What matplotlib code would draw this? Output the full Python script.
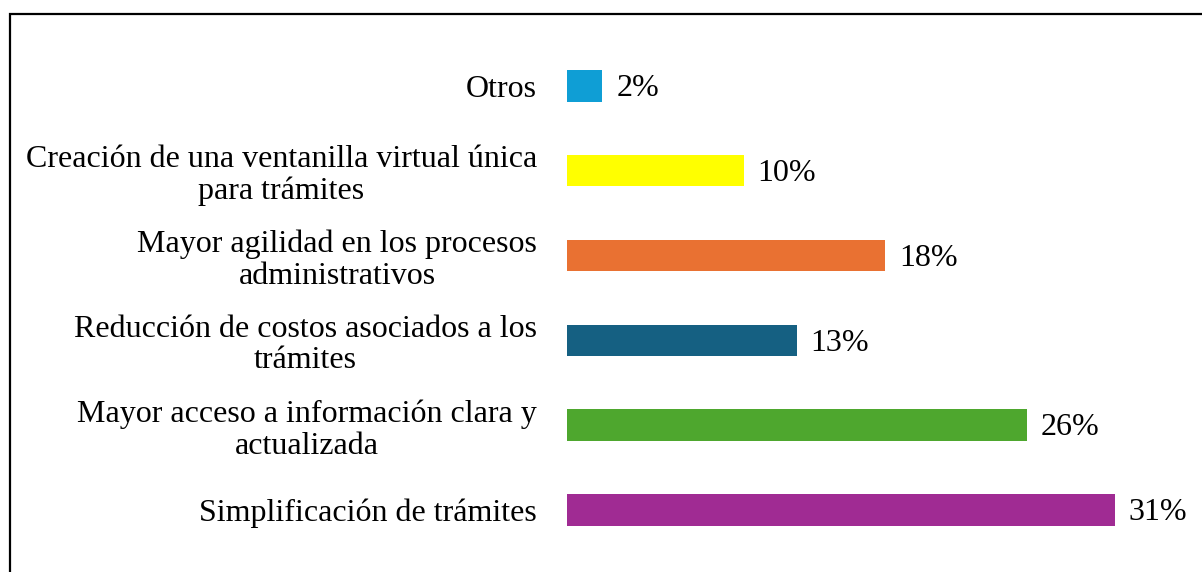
import matplotlib
matplotlib.use("Agg")
import matplotlib.pyplot as plt
from matplotlib.patches import Rectangle

# Datos (de abajo hacia arriba, como aparecen en el gráfico)
categorias = [
    "Simplificación de trámites",
    "Mayor acceso a información clara y\nactualizada",
    "Reducción de costos asociados a los\ntrámites",
    "Mayor agilidad en los procesos\nadministrativos",
    "Creación de una ventanilla virtual única\npara trámites",
    "Otros",
]
porcentajes = [31, 26, 13, 18, 10, 2]
colores = ["#A02B93", "#4EA72E", "#156082", "#E97132", "#FFFF00", "#0F9ED5"]

plt.rcParams["font.family"] = ["Liberation Serif", "DejaVu Serif"]

W, H = 1202, 572
fig = plt.figure(figsize=(W / 100, H / 100), dpi=100)

# ejes posicionados en píxeles
x0, ancho = 567, 548 / 31 * 35
y0, alto = 19.6, 509
ax = fig.add_axes([x0 / W, y0 / H, ancho / W, alto / H])

pos = list(range(len(categorias)))
ax.barh(pos, porcentajes, height=0.37, color=colores)
ax.set_xlim(0, 35)
ax.set_ylim(-0.5, len(categorias) - 0.5)

ax.set_yticks(pos)
ax.set_yticklabels(categorias, fontsize=23)
for lab in ax.get_yticklabels():
    lab.set_multialignment("center")
    lab.set_linespacing(1.12)
ax.tick_params(axis="y", length=0, pad=21.5)
ax.set_xticks([])
for s in ax.spines.values():
    s.set_visible(False)

for p, v in zip(pos, porcentajes):
    ax.annotate(f"{v}%", xy=(v, p), xytext=(10, -2), textcoords="offset points",
                va="center", ha="left", fontsize=23)

# marco del gráfico (solo se ven borde superior e izquierdo)
fig.add_artist(Rectangle((10 / W, -0.2), 1.5, (H - 14) / H + 0.2,
                         transform=fig.transFigure, fill=False,
                         edgecolor="black", linewidth=1.6, clip_on=False))

fig.savefig("out.png", dpi=100)
